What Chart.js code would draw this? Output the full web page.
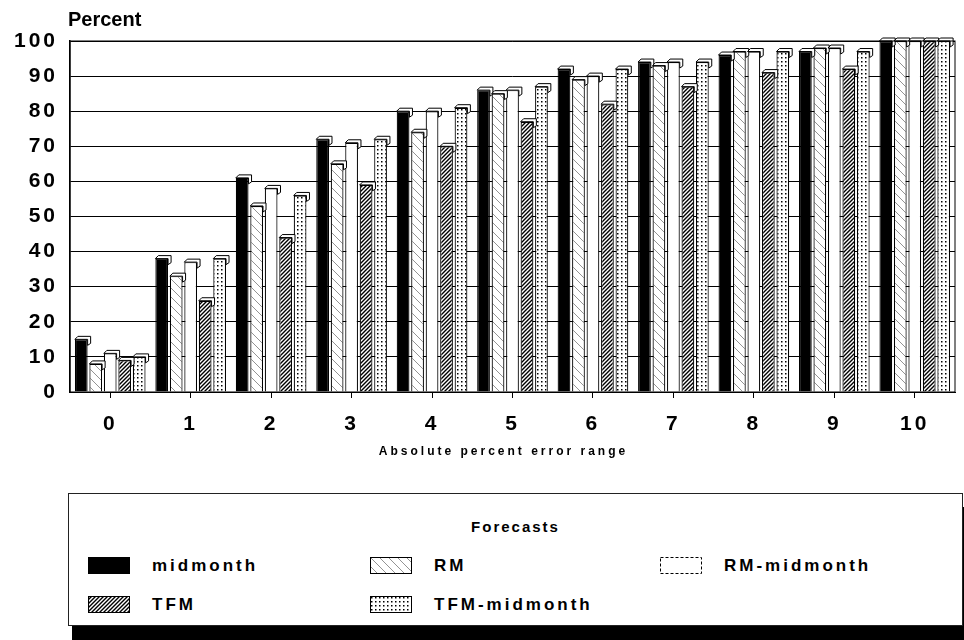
<!DOCTYPE html>
<html>
<head>
<meta charset="utf-8">
<script src="https://cdn.jsdelivr.net/npm/chart.js@4.4.0/dist/chart.umd.min.js"></script>
<style>
  body { margin: 0; background: #fff; width: 964px; height: 640px; overflow: hidden; position: relative;
         font-family: "Liberation Sans", Arial, sans-serif; }
  #wrap { position: absolute; left: 0; top: 0; width: 964px; height: 470px; }
  #legend { position: absolute; left: 68px; top: 493px; width: 893px; height: 131px;
            border: 1px solid #222; background: #fff; box-shadow: 4px 14px 0 #000; }
  #legend .ttl { position: absolute; top: 24px; left: 0; width: 100%; text-align: center;
                 font-weight: bold; font-size: 15px; letter-spacing: 2px; }
  #legend .item { position: absolute; font-weight: bold; font-size: 17px; letter-spacing: 3px; line-height: 19px; }
  #legend canvas { position: absolute; left: 0; top: 1px; }
  #legend span { position: absolute; left: 64px; top: 0; white-space: nowrap; }
</style>
</head>
<body>
<div id="wrap"><canvas id="myChart"></canvas></div>
<div id="legend"><div class="ttl">Forecasts</div></div>
<script>
/*---------------------------- data ------------------------------------*/
var xValues = ['0','1','2','3','4','5','6','7','8','9','10'];
var yTicks = [0,10,20,30,40,50,60,70,80,90,100];
var seriesNames = ['midmonth','RM','RM-midmonth','TFM','TFM-midmonth'];

var midmonth    = [15, 38, 61, 72, 80, 86, 92, 94, 96, 97, 100];
var rm          = [ 8, 33, 53, 65, 74, 85, 89, 93, 97, 98, 100];
var rmMidmonth  = [11, 37, 58, 71, 80, 86, 90, 94, 97, 98, 100];
var tfm         = [ 9, 26, 44, 59, 70, 77, 82, 87, 91, 92, 100];
var tfmMidmonth = [10, 38, 56, 72, 81, 87, 92, 94, 97, 97, 100];

/*---------------------------- fills ------------------------------------*/
function makePattern(kind) {
  var c = document.createElement('canvas');
  var s = kind == 'rm' ? 9 : 4;
  c.width = s; c.height = s;
  var g = c.getContext('2d');
  g.fillStyle = '#fff';
  g.fillRect(0, 0, s, s);
  if (kind == 'tfm') {
    g.strokeStyle = '#000'; g.lineWidth = 1.4;
    g.beginPath();
    g.moveTo(0, s); g.lineTo(s, 0);
    g.moveTo(-1, 1); g.lineTo(1, -1);
    g.moveTo(s - 1, s + 1); g.lineTo(s + 1, s - 1);
    g.stroke();
  } else if (kind == 'rm') {
    g.strokeStyle = '#777'; g.lineWidth = 0.8;
    g.beginPath();
    g.moveTo(0, 0); g.lineTo(s, s);
    g.stroke();
  } else if (kind == 'dots') {
    g.fillStyle = '#000';
    g.fillRect(1, 1, 1.5, 1.5);
  }
  return g.createPattern(c, 'repeat');
}

var fills = ['#000', makePattern('rm'), '#fff', makePattern('tfm'), makePattern('dots')];
var seriesData = [midmonth, rm, rmMidmonth, tfm, tfmMidmonth];

var datasets = seriesNames.map(function (name, i) {
  return {
    label: name,
    data: seriesData[i],
    backgroundColor: fills[i],
    borderColor: '#000',
    borderWidth: 1.2,
    categoryPercentage: 0.9,
    barPercentage: 0.88
  };
});

/*---------------------------- plugins ------------------------------------*/
var capsPlugin = {
  id: 'caps',
  beforeDraw: function (chart) {
    chart.ctx.letterSpacing = '3px';
  },
  afterDatasetsDraw: function (chart) {
    var ctx = chart.ctx;
    ctx.save();
    ctx.strokeStyle = '#000';
    ctx.lineWidth = 1;
    chart.data.datasets.forEach(function (ds, i) {
      chart.getDatasetMeta(i).data.forEach(function (bar) {
        var w = bar.width, x0 = bar.x - w / 2, x1 = bar.x + w / 2, y = bar.y, d = 3;
        ctx.beginPath();
        ctx.moveTo(x0, y);
        ctx.lineTo(x0 + d, y - d);
        ctx.lineTo(x1 + d, y - d);
        ctx.lineTo(x1 + d, y + 4);
        ctx.lineTo(x1, y + 6);
        ctx.lineTo(x1, y);
        ctx.closePath();
        ctx.fillStyle = '#fff';
        ctx.fill();
        ctx.stroke();
      });
    });
    ctx.restore();
  }
};

var labelsPlugin = {
  id: 'labels',
  afterDraw: function (chart) {
    var ctx = chart.ctx, a = chart.chartArea;
    ctx.save();
    ctx.fillStyle = '#000';
    ctx.strokeStyle = '#000';
    ctx.lineWidth = 1;
    ctx.strokeRect(a.left, a.top, a.right - a.left, a.bottom - a.top);
    ctx.font = 'bold 20px "Liberation Sans", Arial';
    ctx.letterSpacing = '0px';
    ctx.textAlign = 'left';
    ctx.textBaseline = 'alphabetic';
    ctx.fillText('Percent', a.left - 2, a.top - 15);
    ctx.font = 'bold 12px "Liberation Sans", Arial';
    ctx.letterSpacing = '3px';
    ctx.textAlign = 'center';
    ctx.fillText('Absolute percent error range', (a.left + a.right) / 2 - 9, a.bottom + 63);
    ctx.restore();
  }
};

/*---------------------------- chart ------------------------------------*/
new Chart('myChart', {
  type: 'bar',
  data: { labels: xValues, datasets: datasets },
  plugins: [capsPlugin, labelsPlugin],
  options: {
    responsive: true,
    maintainAspectRatio: false,
    animation: false,
    layout: { padding: { left: 8, right: 9, top: 41, bottom: 0 } },
    plugins: { legend: { display: false }, tooltip: { enabled: false } },
    scales: {
      x: {
        grid: { display: true, drawOnChartArea: false, drawTicks: true, tickLength: 6, offset: false, color: '#000' },
        border: { color: '#000' },
        ticks: { color: '#000', padding: 14, font: { size: 21, weight: 'bold', family: '"Liberation Sans", Arial' } },
        afterFit: function (scale) { scale.height = 78; }
      },
      y: {
        min: 0, max: 100,
        afterBuildTicks: function (scale) { scale.ticks = yTicks.map(function (v) { return { value: v }; }); },
        grid: { color: '#000', lineWidth: 1, drawTicks: false },
        border: { color: '#000', width: 1.5 },
        ticks: { color: '#000', padding: 12, font: { size: 21, weight: 'bold', family: '"Liberation Sans", Arial' } },
        afterFit: function (scale) { scale.width = 62; }
      }
    }
  }
});

/*---------------------------- legend ------------------------------------*/
var legend = document.getElementById('legend');
var spots = [[19, 72], [301, 72], [591, 72], [19, 111], [301, 111]];
seriesNames.forEach(function (name, i) {
  var item = document.createElement('div');
  item.className = 'item';
  item.style.left = spots[i][0] + 'px';
  item.style.top = (spots[i][1] - 10) + 'px';
  var sw = document.createElement('canvas');
  sw.width = 42; sw.height = 17;
  var g = sw.getContext('2d');
  g.fillStyle = fills[i];
  g.fillRect(0, 0, 42, 17);
  g.strokeStyle = '#000';
  if (i == 2) g.setLineDash([3, 2]);
  g.strokeRect(0.5, 0.5, 41, 16);
  var tx = document.createElement('span');
  tx.textContent = name;
  item.appendChild(sw);
  item.appendChild(tx);
  legend.appendChild(item);
});
</script>
</body>
</html>
